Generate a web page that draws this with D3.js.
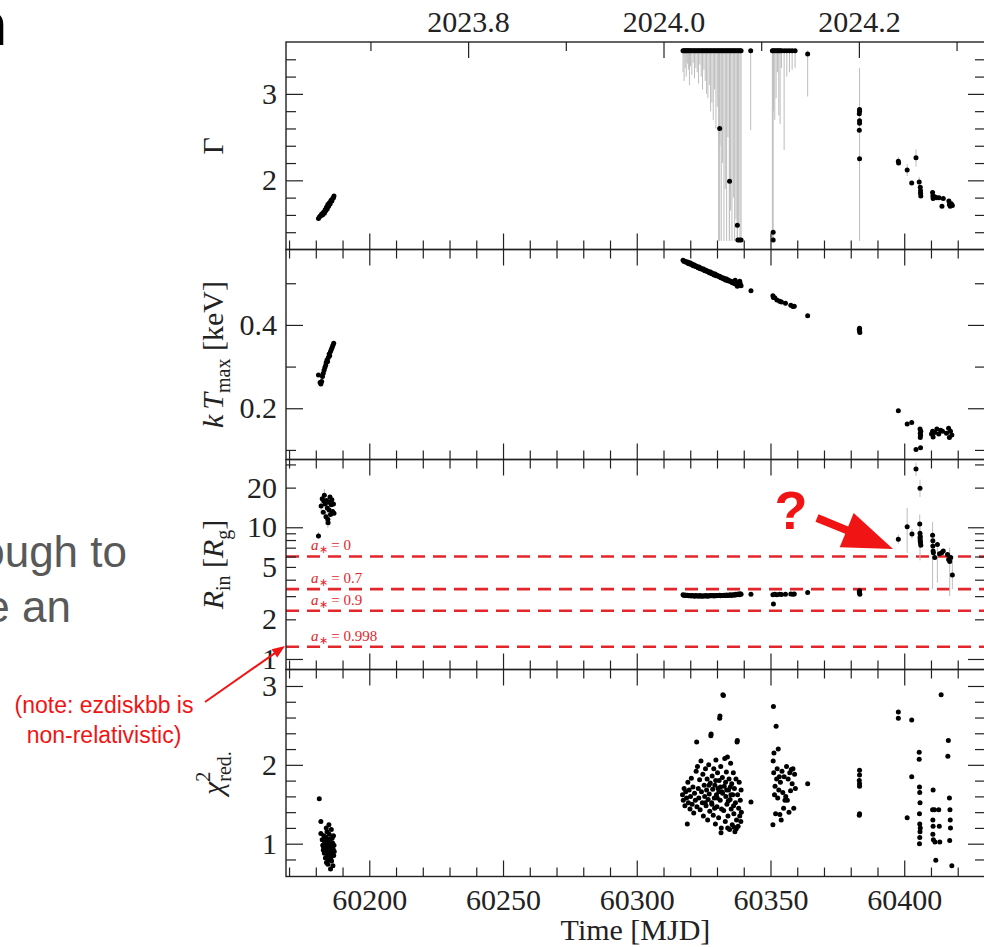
<!DOCTYPE html>
<html><head><meta charset="utf-8">
<script src="https://cdn.jsdelivr.net/npm/d3@7"></script>
<style>html,body{margin:0;padding:0;background:#fff;}svg{display:block;}</style>
</head><body>
<svg id="c" width="984" height="947"></svg>
<script>
// ---------------- DATA ----------------
// [MJD, value, errLow, errHigh]  (error values optional)
const gammaData = [
 [60181.0,1.56],[60181.4,1.58],[60181.8,1.59],[60182.2,1.61],[60182.5,1.60],[60182.9,1.63],[60183.2,1.62],[60183.5,1.66],[60183.8,1.65],[60184.0,1.69],
 [60184.3,1.67],[60184.5,1.72],[60184.8,1.70],[60185.1,1.74],[60185.4,1.73],[60185.7,1.77],[60186.0,1.76],[60186.3,1.79],[60186.6,1.80],[60186.8,1.82],
 [60317.3,3.5,3.25],[60317.7,3.5,3.15],[60318.1,3.5,3.30],[60318.5,3.5,3.20],[60318.9,3.5,3.35],[60319.3,3.5,3.28],[60319.7,3.5,3.10],[60320.1,3.5,3.32],
 [60320.6,3.5,3.22],[60321.1,3.5,3.36],[60321.6,3.5,3.18],[60322.1,3.5,3.30],[60322.6,3.5,3.25],[60323.1,3.5,3.12],[60323.6,3.5,3.34],[60324.1,3.5,3.20],
 [60324.6,3.5,3.05],[60325.1,3.5,3.28],[60325.6,3.5,3.15],[60326.1,3.5,3.00],[60326.6,3.5,2.95],[60327.1,3.5,3.10],[60327.6,3.5,2.80],[60328.1,3.5,2.90],
 [60328.6,3.5,2.70],[60329.1,3.5,3.05],[60329.6,3.5,2.60],[60330.1,3.5,2.85],[60330.6,3.5,1.30],[60331.1,3.5,2.40],[60331.6,3.5,1.30],[60332.1,3.5,2.20],
 [60332.6,3.5,1.30],[60333.1,3.5,1.90],[60333.6,3.5,1.30],[60334.1,3.5,2.50],[60334.6,3.5,1.30],[60335.1,3.5,1.65],[60335.6,3.5,1.30],[60336.1,3.5,1.80],
 [60336.6,3.5,1.30],[60337.1,3.5,1.55],[60337.6,3.5,1.30],[60338.1,3.5,1.45],[60338.6,3.5,1.30],[60339.0,3.5,1.30],
 [60331.0,2.60,1.30,3.5],[60334.7,1.99,1.30,3.5],[60337.6,1.48,1.30,3.5],[60337.8,1.31],[60338.4,1.31],[60339.0,1.31],
 [60342.6,3.5,2.58],
 [60350.7,3.5,1.30],[60351.1,3.5,2.80],[60351.6,3.5,2.70],[60352.1,3.5,2.95],[60352.6,3.5,3.25],[60353.1,3.5,2.75],[60353.6,3.5,2.65],[60354.1,3.5,3.30],
 [60355.1,3.5,2.35],[60356.1,3.5,3.20],[60357.1,3.5,3.25],[60358.1,3.5,3.28],[60359.2,3.5,3.30],
 [60351.0,1.40,1.30,3.5],[60351.0,1.31],
 [60363.9,3.46,2.97,3.5],
 [60383.3,2.82,1.30,3.30],[60383.3,2.80],[60383.2,2.77],[60383.3,2.69],[60383.3,2.66],[60383.2,2.58],[60383.3,2.25],
 [60397.8,2.22,2.18,2.27],[60397.9,2.20],[60401.1,2.12,2.05,2.19],[60402.8,1.97],[60404.4,2.26,2.16,2.36],[60405.6,1.98,1.93,2.04],[60406.0,1.92],
 [60406.1,1.88],[60406.1,1.85],[60406.2,1.82],[60410.6,1.86],[60410.7,1.82],[60410.8,1.79],[60411.4,1.81],[60412.2,1.80],[60413.0,1.80],[60414.1,1.70],
 [60414.6,1.79],[60416.7,1.76],[60416.9,1.72],[60417.2,1.70],[60417.6,1.73],[60418.0,1.71]
];

const ktData = [
 [60181.0,0.280],[60181.6,0.262],[60181.9,0.258],[60182.2,0.264],[60182.5,0.276],[60182.8,0.284],[60183.1,0.291],[60183.4,0.298],[60183.7,0.303],[60183.9,0.310],
 [60184.2,0.316],[60184.4,0.312],[60184.7,0.322],[60185.0,0.330],[60185.2,0.326],[60185.5,0.336],[60185.8,0.341],[60186.1,0.346],[60186.4,0.351],[60186.7,0.356],
 [60317.3,0.555],[60317.7,0.552],[60318.1,0.553],[60318.6,0.550],[60319.0,0.551],[60319.4,0.547],[60319.9,0.549],[60320.3,0.545],[60320.7,0.546],[60321.1,0.542],
 [60321.6,0.544],[60322.0,0.540],[60322.4,0.541],[60322.9,0.537],[60323.3,0.539],[60323.7,0.535],[60324.1,0.536],[60324.6,0.533],[60325.0,0.534],[60325.4,0.530],
 [60325.9,0.531],[60326.3,0.528],[60326.7,0.529],[60327.1,0.525],[60327.6,0.527],[60328.0,0.523],[60328.4,0.524],[60328.9,0.520],[60329.3,0.522],[60329.7,0.518],
 [60330.1,0.519],[60330.6,0.516],[60331.0,0.517],[60331.4,0.513],[60331.9,0.514],[60332.3,0.511],[60332.7,0.512],[60333.1,0.508],[60333.6,0.510],[60334.0,0.506],
 [60334.4,0.507],[60334.9,0.504],[60335.3,0.505],[60335.7,0.501],[60336.1,0.503],[60336.6,0.499],[60337.0,0.502],[60337.4,0.497],[60337.9,0.500],[60338.3,0.496],
 [60338.7,0.499],[60339.0,0.494],[60336.8,0.507],[60338.5,0.505],[60337.6,0.493],
 [60342.7,0.482],
 [60350.9,0.470],[60351.1,0.466],[60351.6,0.465],[60352.4,0.460],[60353.4,0.457],[60354.1,0.455],[60355.6,0.452],[60357.6,0.447],[60358.4,0.444],[60358.9,0.445],
 [60363.9,0.422],
 [60383.3,0.392],[60383.3,0.386],[60383.4,0.382],[60383.2,0.389],
 [60397.8,0.194],[60401.1,0.162],[60402.8,0.166],[60404.4,0.101],[60406.1,0.105],[60405.9,0.150],[60406.0,0.140],[60406.1,0.135],[60406.2,0.145],[60406.0,0.130],
 [60410.2,0.138],[60410.6,0.145],[60410.8,0.131],[60411.4,0.142],[60412.2,0.150],[60412.9,0.138],[60413.6,0.147],[60414.3,0.145],[60415.8,0.140],[60416.6,0.152],
 [60416.9,0.130],[60417.3,0.145],[60417.8,0.136]
];

const rinData = [
 [60181.0,8.6,8.1,9.2],
 [60182.0,14.5,12.6,16.7],[60182.4,16.5],[60182.8,13.0],[60183.2,17.5,15.2,19.5],[60183.5,15.0],[60183.8,12.0,10.4,13.8],[60184.0,16.0],[60184.3,14.0],
 [60184.5,11.5,9.9,13.2],[60184.8,15.5],[60185.0,13.5],[60185.3,17.0],[60185.5,12.5],[60185.8,14.8],[60186.0,16.2],[60186.3,13.2],[60186.6,15.0],[60186.8,12.8],
 [60183.0,15.8],[60184.6,10.8],
 [60317.3,3.07],[60317.7,3.04],[60318.1,3.06],[60318.6,3.03],[60319.0,3.05],[60319.4,3.02],[60319.9,3.04],[60320.3,3.01],[60320.7,3.03],[60321.1,3.02],
 [60321.6,3.00],[60322.0,3.03],[60322.4,3.01],[60322.9,3.02],[60323.3,3.00],[60323.7,3.03],[60324.1,3.01],[60324.6,3.00],[60325.0,3.02],[60325.4,3.01],
 [60325.9,3.03],[60326.3,3.00],[60326.7,3.02],[60327.1,3.01],[60327.6,3.03],[60328.0,3.02],[60328.4,3.04],[60328.9,3.01],[60329.3,3.03],[60329.7,3.02],
 [60330.1,3.04],[60330.6,3.03],[60331.0,3.05],[60331.4,3.02],[60331.9,3.04],[60332.3,3.03],[60332.7,3.05],[60333.1,3.04],[60333.6,3.06],[60334.0,3.03],
 [60334.4,3.05],[60334.9,3.07],[60335.3,3.04],[60335.7,3.06],[60336.1,3.08],[60336.6,3.05],[60337.0,3.10],[60337.4,3.07],[60337.9,3.12],[60338.3,3.08],
 [60338.7,3.13],[60339.0,3.10],
 [60342.7,3.10],
 [60350.9,3.08],[60351.1,2.62],[60351.6,3.10],[60352.4,3.08],[60353.4,3.10],[60354.1,3.09],[60355.6,3.10],[60357.6,3.12],[60358.4,3.10],[60358.9,3.11],
 [60363.9,3.20],
 [60383.3,3.30],[60383.3,3.18],[60383.4,3.10],[60383.2,3.24],
 [60397.8,8.1,7.5,8.8],[60401.1,10.1,6.4,14.0],[60402.9,8.9,8.2,9.7],[60404.4,27.7,24.5,31.0],[60405.9,19.8,17.0,23.0],[60405.8,10.6,9.0,12.5],
 [60405.9,9.0,5.6,11.0],[60406.0,8.5],[60406.0,8.0],[60406.1,7.6],[60406.2,7.3],[60405.9,8.3],[60406.0,7.8],
 [60410.6,8.7,3.4,11.0],[60410.7,7.9],[60410.7,7.2],[60410.8,6.6],[60410.9,6.4],[60412.4,7.4,3.8,7.0],[60411.4,5.9],[60413.2,6.3],[60414.0,6.4],
 [60414.6,6.6],[60416.2,6.2],[60416.6,5.7],[60417.0,5.5,3.0,7.0],[60417.4,5.9],[60418.0,4.35,3.4,6.0]
];

const chiData = [
 [60181.3,1.57],[60181.9,1.28],[60181.9,1.13],[60182.4,1.05],[60182.6,0.98],[60182.8,0.92],[60183.0,1.10],[60183.2,0.88],[60183.3,1.02],[60183.5,0.95],
 [60183.6,0.82],[60183.8,1.08],[60184.0,0.90],[60184.0,0.76],[60184.2,1.15],[60184.3,0.99],[60184.4,0.86],[60184.6,1.04],[60184.7,0.93],[60184.8,0.80],
 [60185.0,1.12],[60185.0,0.97],[60185.2,0.89],[60185.3,1.06],[60185.4,0.84],[60185.5,0.68],[60185.6,1.00],[60185.7,0.92],[60185.8,1.18],[60185.9,0.78],
 [60186.0,0.95],[60186.1,1.07],[60186.2,0.87],[60186.3,1.01],[60186.4,0.72],[60186.5,0.93],[60186.6,1.10],[60186.7,0.85],[60186.8,0.98],[60186.9,0.90],
 [60183.9,1.20],[60184.9,1.24],[60182.9,0.96],[60185.6,0.81],[60184.5,0.74],
 [60317.1,1.62],[60317.4,1.55],[60317.7,1.70],[60318.0,1.48],[60318.3,1.66],[60318.6,1.58],[60318.9,1.25],[60319.1,1.78],[60319.3,1.52],[60319.6,1.68],
 [60319.9,1.44],[60320.1,1.60],[60320.4,1.83],[60320.7,1.50],[60321.0,1.72],[60321.3,1.39],[60321.6,1.64],[60321.9,1.55],[60322.2,1.92],[60322.4,2.29],
 [60322.5,1.47],[60322.7,1.98],[60323.0,1.70],[60323.2,1.58],[60323.5,1.81],[60323.7,1.43],[60324.0,2.05],[60324.2,1.66],[60324.5,1.52],[60324.7,1.88],
 [60324.9,1.35],[60325.2,1.74],[60325.4,1.60],[60325.7,1.95],[60325.9,1.48],[60326.1,1.68],[60326.3,1.82],[60326.5,1.30],[60326.7,1.56],[60326.9,2.00],
 [60327.1,1.63],[60327.3,1.41],[60327.5,1.77],[60327.7,2.37],[60327.8,2.39],[60328.0,1.52],[60328.2,1.86],[60328.4,1.69],[60328.6,1.36],[60328.8,1.95],
 [60329.0,1.58],[60329.2,1.74],[60329.4,1.25],[60329.6,2.06],[60329.8,1.62],[60330.0,1.47],[60330.2,1.90],[60330.4,1.70],[60330.6,1.33],[60330.8,1.80],
 [60331.0,2.59],[60331.1,2.62],[60331.2,1.55],[60331.4,1.98],[60331.6,1.20],[60331.8,1.66],[60332.0,1.84],[60332.2,2.89],[60332.4,2.88],[60332.5,1.42],
 [60332.7,1.73],[60332.9,2.08],[60333.1,1.28],[60333.3,1.60],[60333.5,1.91],[60333.7,1.50],[60333.9,2.10],[60334.1,1.35],[60334.3,1.68],[60334.5,1.82],
 [60334.7,1.18],[60334.9,1.56],[60335.1,2.02],[60335.3,1.44],[60335.5,1.76],[60335.7,1.24],[60335.9,1.62],[60336.1,1.90],[60336.3,1.38],[60336.5,1.70],
 [60336.7,1.15],[60336.9,1.52],[60337.1,1.82],[60337.3,1.30],[60337.5,2.29],[60337.6,2.31],[60337.7,1.62],[60337.9,1.22],[60338.1,1.45],[60338.3,1.78],
 [60338.5,1.35],[60338.7,1.55],[60338.9,1.28],[60339.1,1.40],[60339.0,1.68],
 [60328.1,1.50],[60329.1,1.45],[60330.1,1.58],[60331.3,1.72],[60332.1,1.64],[60333.2,1.78],[60334.2,1.54],[60335.2,1.62],[60336.2,1.48],[60330.7,1.66],
 [60329.5,1.80],[60331.7,1.44],[60333.6,1.68],[60335.0,1.72],[60327.0,1.74],[60325.6,1.52],[60331.5,1.14],[60334.0,1.20],[60337.2,1.19],[60336.4,1.21],
 [60342.7,1.53],
 [60350.9,1.24],[60351.1,2.74],[60351.0,2.05],[60351.2,1.90],[60351.3,2.15],[60351.5,1.62],[60351.7,1.73],[60351.9,1.38],[60352.1,2.49],[60352.3,1.82],
 [60352.5,1.95],[60352.7,1.58],[60352.9,2.20],[60353.1,1.68],[60353.3,1.85],[60353.5,1.37],[60353.7,1.78],[60354.0,1.30],[60354.3,1.92],[60354.6,1.65],
 [60354.9,1.45],[60355.1,1.85],[60355.4,1.55],[60355.7,1.60],[60356.0,1.98],[60356.3,1.55],[60356.6,1.82],[60356.9,1.40],[60357.2,1.90],[60357.5,1.67],
 [60357.8,1.94],[60358.1,1.76],[60358.4,1.95],[60358.7,1.45],[60359.0,1.88],[60359.3,1.70],
 [60363.9,1.76],
 [60383.3,1.93],[60383.3,1.87],[60383.2,1.80],[60383.3,1.76],[60383.3,1.73],[60383.3,1.38],[60383.2,1.36],
 [60397.8,2.67],[60397.8,2.59],[60402.8,2.57],[60401.1,1.33],[60402.8,1.85],[60405.6,2.16],[60405.6,2.07],[60405.7,1.72],[60405.8,1.65],[60405.9,1.52],
 [60405.7,1.38],[60405.8,1.25],[60405.9,1.15],[60405.8,1.08],[60405.7,1.00],[60406.0,1.20],[60410.8,1.68],[60410.6,1.43],[60410.7,1.30],[60410.8,1.22],
 [60410.7,1.12],[60410.9,1.05],[60411.5,1.02],[60411.3,1.43],[60411.8,0.79],[60413.8,2.89],[60412.9,1.43],[60413.3,1.02],[60416.5,2.31],[60416.3,2.11],
 [60416.9,1.58],[60417.1,1.43],[60417.2,1.30],[60417.3,1.20],[60417.0,1.04],[60417.8,0.72],[60413.1,1.22]
];

// ISCO radii for spins
const spinLabels = ["0","0.7","0.9","0.998"];
const iscoRadii = [6.0, 3.393, 2.321, 1.237];

// axis ranges / ticks
const xDomain = [60168.86, 60430.2];
const gammaDomain = [1.2, 3.6], ktDomain = [0.077, 0.581], rinDomain = [0.832, 32.7], chiDomain = [0.584, 3.209];
const mjdMajor = [60200, 60250, 60300, 60350, 60400];
const mjdMinor = [60170,60180,60190,60210,60220,60230,60240,60260,60270,60280,60290,60310,60320,60330,60340,60360,60370,60380,60390,60410,60420];
const yearMajor = ["2023.8","2024.0","2024.2"];
const yearMinor = ["2023.7","2023.9","2024.1","2024.3"];
const gammaTickLabels = [2,3], gammaMinor = [1.4,1.6,1.8,2.2,2.4,2.6,2.8,3.2,3.4], gammaMajor = [2,3];
const ktTickLabels = [0.2,0.4], ktMinor = [0.1,0.3,0.5], ktMajor = [0.2,0.4];
const rinTickLabels = [1,2,5,10,20], rinMinor = [2,3,4,5,6,7,8,9,20,30], rinMajor = [1,10];
const chiTickLabels = [1,2,3], chiMinor = [0.8,1.2,1.4,1.6,1.8,2.2,2.4,2.6,2.8], chiMajor = [1,2,3];

// ---------------- DRAW ----------------
const SERIF = "'Liberation Serif','Times New Roman',Times,serif";
const SANS = "'Liberation Sans',Arial,Helvetica,sans-serif";
const svg = d3.select("#c");
const L = 286, R = 985;
const P = [{t:42,b:249.5},{t:249.5,b:459.5},{t:459.5,b:669.5},{t:669.5,b:876.5}];
const x = d3.scaleLinear().domain(xDomain).range([L,R]);
const yearToMjd = yr => 60310 + (yr - 2024) * 365.25;

const panels = [
 {y:d3.scaleLinear().domain(gammaDomain).range([P[0].b,P[0].t]), data:gammaData, labels:gammaTickLabels, minor:gammaMinor, major:gammaMajor, fmt:d=>String(d)},
 {y:d3.scaleLinear().domain(ktDomain).range([P[1].b,P[1].t]), data:ktData, labels:ktTickLabels, minor:ktMinor, major:ktMajor, fmt:d=>d.toFixed(1)},
 {y:d3.scaleLog().domain(rinDomain).range([P[2].b,P[2].t]), data:rinData, labels:rinTickLabels, minor:rinMinor, major:rinMajor, fmt:d=>String(d)},
 {y:d3.scaleLinear().domain(chiDomain).range([P[3].b,P[3].t]), data:chiData, labels:chiTickLabels, minor:chiMinor, major:chiMajor, fmt:d=>String(d)}
];

const defs = svg.append("defs");
function styleAxis(g){ g.select(".domain").remove(); g.selectAll("line").attr("stroke","#222").attr("stroke-width",1.2);
  g.attr("font-family",SERIF).attr("font-size",30); g.selectAll("text").attr("fill","#222"); }

panels.forEach((p,i)=>{
  const t=P[i].t, b=P[i].b;
  defs.append("clipPath").attr("id","clip"+i).append("rect").attr("x",L).attr("y",t).attr("width",R-L).attr("height",b-t);
  const g = svg.append("g").attr("clip-path",`url(#clip${i})`);
  // reference lines for Rin panel
  if(i===2){
    g.selectAll("line.isco").data(iscoRadii).join("line").attr("class","isco")
      .attr("x1",L).attr("x2",R).attr("y1",d=>p.y(d)).attr("y2",d=>p.y(d))
      .attr("stroke","#e3262b").attr("stroke-width",2.6).attr("stroke-dasharray","13,8");
  }
  // error bars
  g.selectAll("line.err").data(p.data.filter(d=>d.length>2)).join("line").attr("class","err")
    .attr("x1",d=>x(d[0])).attr("x2",d=>x(d[0]))
    .attr("y1",d=>p.y(d[2])).attr("y2",d=>p.y(d[3]!==undefined?d[3]:d[1]))
    .attr("stroke","#bdbdbd").attr("stroke-width",1);
  // points
  g.selectAll("circle").data(p.data).join("circle")
    .attr("cx",d=>x(d[0])).attr("cy",d=>p.y(d[1])).attr("r",2.5).attr("fill","#000");

  // y ticks left
  svg.append("g").attr("transform",`translate(${L},0)`).call(d3.axisLeft(p.y).tickValues(p.minor).tickSize(-10).tickFormat("")).call(styleAxis);
  svg.append("g").attr("transform",`translate(${L},0)`).call(d3.axisLeft(p.y).tickValues(p.major).tickSize(-17).tickFormat("")).call(styleAxis);
  svg.append("g").attr("transform",`translate(${L},0)`).call(d3.axisLeft(p.y).tickValues(p.labels).tickSize(0).tickPadding(9).tickFormat(p.fmt)).call(styleAxis);
  // y ticks right
  svg.append("g").attr("transform",`translate(${R},0)`).call(d3.axisRight(p.y).tickValues(p.minor).tickSize(-10).tickFormat("")).call(styleAxis);
  svg.append("g").attr("transform",`translate(${R},0)`).call(d3.axisRight(p.y).tickValues(p.major).tickSize(-17).tickFormat("")).call(styleAxis);
  // x ticks at bottom of panel (pointing up)
  svg.append("g").attr("transform",`translate(0,${b})`).call(d3.axisBottom(x).tickValues(mjdMinor).tickSize(-9).tickFormat("")).call(styleAxis);
  svg.append("g").attr("transform",`translate(0,${b})`).call(d3.axisBottom(x).tickValues(mjdMajor).tickSize(-16).tickFormat("")).call(styleAxis);
  // x ticks at top of panel (pointing down)
  if(i>0){
    svg.append("g").attr("transform",`translate(0,${t})`).call(d3.axisTop(x).tickValues(mjdMinor).tickSize(-9).tickFormat("")).call(styleAxis);
    svg.append("g").attr("transform",`translate(0,${t})`).call(d3.axisTop(x).tickValues(mjdMajor).tickSize(-16).tickFormat("")).call(styleAxis);
  }
  // frame
  svg.append("rect").attr("x",L).attr("y",t).attr("width",R-L).attr("height",b-t)
    .attr("fill","none").attr("stroke","#222").attr("stroke-width",1.4);
});

// top year axis
svg.append("g").attr("transform",`translate(0,${P[0].t})`)
  .call(d3.axisTop(x).tickValues(yearMinor.map(s=>yearToMjd(+s))).tickSize(-9).tickFormat("")).call(styleAxis);
svg.append("g").attr("transform",`translate(0,${P[0].t})`)
  .call(d3.axisTop(x).tickValues(yearMajor.map(s=>yearToMjd(+s))).tickSize(-16).tickPadding(10).tickFormat((d,i)=>yearMajor[i])).call(styleAxis);
// bottom MJD labels
svg.append("g").attr("transform",`translate(0,${P[3].b})`)
  .call(d3.axisBottom(x).tickValues(mjdMajor).tickSize(0).tickPadding(12).tickFormat(d=>String(d))).call(styleAxis);

// axis titles
svg.append("text").attr("x",(L+R)/2).attr("y",940).attr("text-anchor","middle")
  .attr("font-family",SERIF).attr("font-size",30).attr("fill","#222").text("Time [MJD]");

function ytitle(i){
  const cy=(P[i].t+P[i].b)/2;
  return svg.append("text").attr("transform",`translate(223,${cy}) rotate(-90)`).attr("text-anchor","middle")
    .attr("font-family",SERIF).attr("font-size",30).attr("fill","#222");
}
ytitle(0).text("Γ");
{ const tx=ytitle(1);
  tx.append("tspan").attr("font-style","italic").text("k");
  tx.append("tspan").attr("font-style","italic").attr("dx",5).text("T");
  tx.append("tspan").attr("font-size",20).attr("dy",7).text("max");
  tx.append("tspan").attr("dy",-7).text(" [keV]"); }
{ const tx=ytitle(2);
  tx.append("tspan").attr("font-style","italic").text("R");
  tx.append("tspan").attr("font-size",20).attr("dy",7).text("in");
  tx.append("tspan").attr("dy",-7).text(" [");
  tx.append("tspan").attr("font-style","italic").text("R");
  tx.append("tspan").attr("font-size",20).attr("dy",7).text("g");
  tx.append("tspan").attr("dy",-7).text("]"); }
{ const tx=ytitle(3);
  tx.append("tspan").attr("font-style","italic").text("χ");
  tx.append("tspan").attr("font-size",20).attr("dy",-13).text("2");
  tx.append("tspan").attr("font-size",20).attr("dx",-10).attr("dy",21).text("red.");
  tx.append("tspan").attr("dy",-8).text(""); }

// spin labels
const yR = panels[2].y;
iscoRadii.forEach((r,k)=>{
  const tx = svg.append("text").attr("x",311).attr("y",yR(r)-6).attr("font-family",SERIF).attr("font-size",15).attr("fill","#e3262b");
  tx.append("tspan").attr("font-style","italic").text("a");
  tx.append("tspan").attr("font-size",11).attr("dy",3).text("∗");
  tx.append("tspan").attr("dy",-3).text(" = " + spinLabels[k]);
});

// ---------------- ANNOTATIONS ----------------
function arrow(x1,y1,x2,y2,hl,hw,sw,color){
  const dx=x2-x1, dy=y2-y1, len=Math.hypot(dx,dy), ux=dx/len, uy=dy/len, nx=-uy, ny=ux;
  const bx=x2-ux*hl, by=y2-uy*hl;
  svg.append("line").attr("x1",x1).attr("y1",y1).attr("x2",bx+ux*2).attr("y2",by+uy*2).attr("stroke",color).attr("stroke-width",sw);
  svg.append("polygon").attr("points",[[x2,y2],[bx+nx*hw,by+ny*hw],[bx-nx*hw,by-ny*hw]].map(p=>p.join(",")).join(" ")).attr("fill",color);
}
arrow(817,518,893,549,50,18.5,8,"#f01414");
svg.append("text").attr("x",791).attr("y",529).attr("text-anchor","middle").attr("font-family",SANS)
  .attr("font-weight","bold").attr("font-size",54).attr("fill","#f01414").text("?");

arrow(205,702,285,646,13,5,2,"#f01414");
svg.append("text").attr("x",104).attr("y",713).attr("text-anchor","middle").attr("font-family",SANS)
  .attr("font-size",23).attr("fill","#f01414").text("(note: ezdiskbb is");
svg.append("text").attr("x",104).attr("y",743).attr("text-anchor","middle").attr("font-family",SANS)
  .attr("font-size",23).attr("fill","#f01414").text("non-relativistic)");

// slide text fragments
svg.append("text").attr("x",127).attr("y",567).attr("text-anchor","end").attr("font-family",SANS)
  .attr("font-size",44).attr("fill","#595959").text("ough to");
svg.append("text").attr("x",71).attr("y",622).attr("text-anchor","end").attr("font-family",SANS)
  .attr("font-size",44).attr("fill","#595959").text("e an");
svg.append("text").attr("x",7).attr("y",45).attr("text-anchor","end").attr("font-family",SANS)
  .attr("font-weight","bold").attr("font-size",62).attr("fill","#000").text("n");
</script>
</body></html>
